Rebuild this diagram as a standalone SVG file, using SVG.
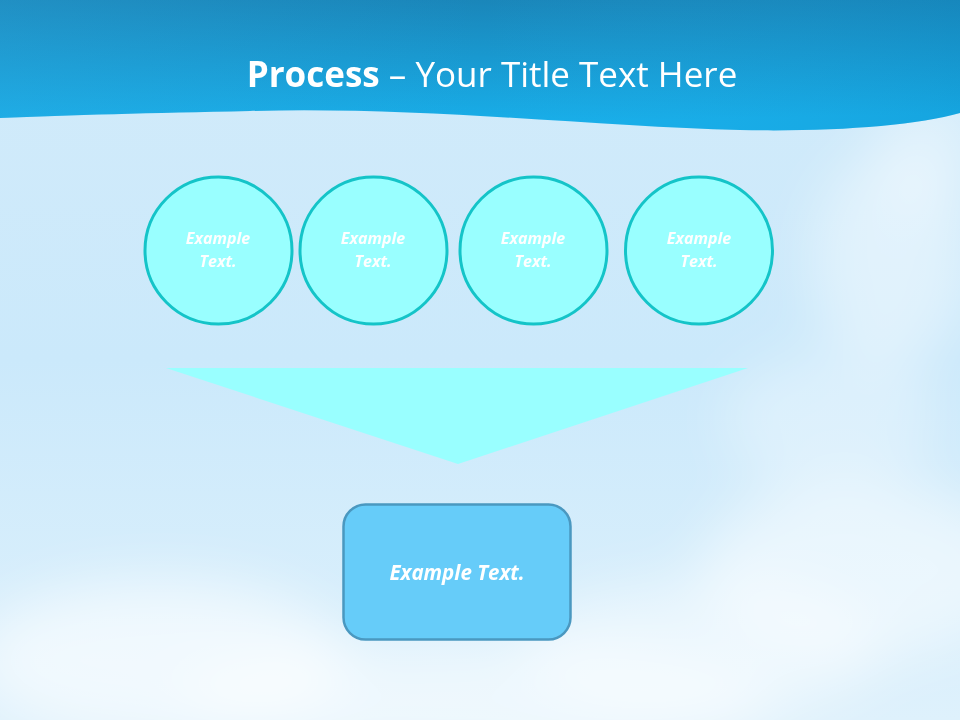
<svg xmlns="http://www.w3.org/2000/svg" width="960" height="720" viewBox="0 0 960 720">
  <defs>
    <linearGradient id="sky" x1="0" y1="0" x2="0" y2="1">
      <stop offset="0" stop-color="#d2ebfa"/>
      <stop offset="0.5" stop-color="#cbe9fb"/>
      <stop offset="1" stop-color="#def1fc"/>
    </linearGradient>
    <linearGradient id="hdr" x1="0" y1="0" x2="0.15" y2="1">
      <stop offset="0" stop-color="#1a83b6"/>
      <stop offset="1" stop-color="#18aee9"/>
    </linearGradient>
    <linearGradient id="hdrR" x1="0" y1="0" x2="1" y2="0">
      <stop offset="0" stop-color="#35b6ec" stop-opacity="0.25"/>
      <stop offset="0.5" stop-color="#35b6ec" stop-opacity="0"/>
      <stop offset="1" stop-color="#0a7fb8" stop-opacity="0.2"/>
    </linearGradient>
    <filter id="blur" x="-50%" y="-50%" width="200%" height="200%">
      <feGaussianBlur stdDeviation="28"/>
    </filter>
    <style>
      .title { font-family: "Open Sans", "Noto Sans", "Liberation Sans", sans-serif; font-size: 35px; fill: #ffffff; }
      .circ { fill: #99ffff; stroke: #14c4c8; stroke-width: 3; }
      .ctext { font-family: "Open Sans", "Liberation Sans", sans-serif; font-size: 16px; font-weight: bold; font-style: italic; fill: #ffffff; text-anchor: middle; }
      .box { fill: #66ccf9; stroke: #4a98c0; stroke-width: 2.5; }
      .btext { font-family: "Open Sans", "Liberation Sans", sans-serif; font-size: 20.5px; font-weight: bold; font-style: italic; fill: #ffffff; text-anchor: middle; }
    </style>
  </defs>

  <!-- background sky -->
  <rect x="0" y="0" width="960" height="720" fill="url(#sky)"/>
  <g filter="url(#blur)" fill="#ffffff">
    <ellipse cx="890" cy="260" rx="80" ry="110" opacity="0.4"/>
    <ellipse cx="830" cy="420" rx="110" ry="70" opacity="0.3"/>
    <ellipse cx="860" cy="570" rx="160" ry="90" opacity="0.5"/>
    <ellipse cx="160" cy="660" rx="190" ry="80" opacity="0.6"/>
    <ellipse cx="480" cy="700" rx="300" ry="60" opacity="0.5"/>
    <ellipse cx="700" cy="650" rx="180" ry="70" opacity="0.45"/>
    <ellipse cx="930" cy="150" rx="50" ry="60" opacity="0.35"/>
  </g>

  <!-- header band -->
  <path d="M0,0 H960 V113 C 915,126 830,132 740,130 C 600,127 420,106 250,111 C 150,113 70,115 0,118 Z" fill="url(#hdr)"/>
  <path d="M0,0 H960 V113 C 915,126 830,132 740,130 C 600,127 420,106 250,111 C 150,113 70,115 0,118 Z" fill="url(#hdrR)"/>

  <g id="title">
    <text class="title" x="492" y="87" text-anchor="middle"><tspan font-weight="bold">Process</tspan> – Your Title Text Here</text>
  </g>

  <g id="connectors">
    <polygon id="funnel" points="166,368 748,368 458,464" fill="#99ffff"/>
  </g>

  <g id="node1">
    <circle class="circ" cx="218.5" cy="250.5" r="73.5"/>
    <text class="ctext" x="218" y="244">Example</text>
    <text class="ctext" x="218" y="267">Text.</text>
  </g>
  <g id="node2">
    <circle class="circ" cx="373.5" cy="250.5" r="73.5"/>
    <text class="ctext" x="373" y="244">Example</text>
    <text class="ctext" x="373" y="267">Text.</text>
  </g>
  <g id="node3">
    <circle class="circ" cx="533.5" cy="250.5" r="73.5"/>
    <text class="ctext" x="533" y="244">Example</text>
    <text class="ctext" x="533" y="267">Text.</text>
  </g>
  <g id="node4">
    <circle class="circ" cx="699" cy="250.5" r="73.5"/>
    <text class="ctext" x="699" y="244">Example</text>
    <text class="ctext" x="699" y="267">Text.</text>
  </g>

  <g id="result">
    <rect class="box" x="343.5" y="504.5" width="227" height="135" rx="22" ry="22"/>
    <text class="btext" x="457" y="580">Example Text.</text>
  </g>
</svg>
